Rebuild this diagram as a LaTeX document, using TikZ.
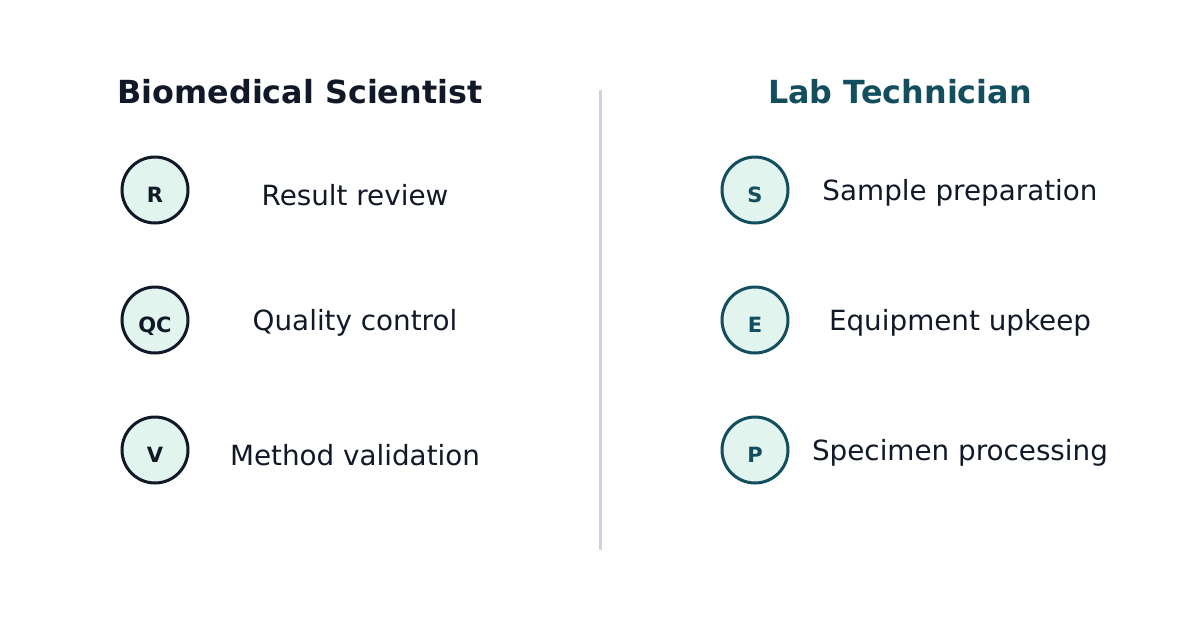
\documentclass[tikz,border=0pt]{standalone}
\usepackage{fontspec}
\setmainfont{DejaVu Sans}
\usetikzlibrary{positioning}
\definecolor{ink}{HTML}{111827}
\definecolor{teal}{HTML}{134E5E}
\definecolor{mint}{HTML}{E1F4EE}
\definecolor{rule}{HTML}{CBD5E1}
\newcommand{\badgetext}[1]{\raisebox{-12.5pt}[0pt][0pt]{#1}}
\tikzset{
  badge/.style={circle,minimum size=66pt,inner sep=0pt,line width=3pt,fill=mint,
    font=\fontsize{21}{21}\selectfont\bfseries},
  duty/.style={font=\fontsize{27.8}{27.8}\selectfont,text=ink},
  head/.style={font=\fontsize{31.8}{31.8}\selectfont\bfseries}
}
\begin{document}
\begin{tikzpicture}[x=1pt,y=-1pt]
   \useasboundingbox (0,0) rectangle (1200,630);
   \node[head,text=ink] (bms) at (300,92) {Biomedical Scientist};
   \node[head,text=teal] (tech) at (900,92) {Lab Technician};
   \coordinate (top) at (600,90);
   \coordinate (bot) at (600,550);
   \draw[rule,line width=3pt] (top) -- (bot);
   % scientist
   \node[badge,draw=ink,text=ink] (r) at (155,190) {\badgetext{R}};
   \node[badge,draw=ink,text=ink] (qc) at (155,320) {\badgetext{QC}};
   \node[badge,draw=ink,text=ink] (v) at (155,450) {\badgetext{V}};
   \node[duty] (rtxt) at (355,195) {Result review};
   \node[duty] (qctxt) at (355,323) {Quality control};
   \node[duty] (vtxt) at (355,455) {Method validation};
   % technician
   \node[badge,draw=teal,text=teal] (s) at (755,190) {\badgetext{S}};
   \node[badge,draw=teal,text=teal] (e) at (755,320) {\badgetext{E}};
   \node[badge,draw=teal,text=teal] (p) at (755,450) {\badgetext{P}};
   \node[duty] (stxt) at (960,193) {Sample preparation};
   \node[duty] (etxt) at (960,323) {Equipment upkeep};
   \node[duty] (ptxt) at (960,453) {Specimen processing};
\end{tikzpicture}
\end{document}
